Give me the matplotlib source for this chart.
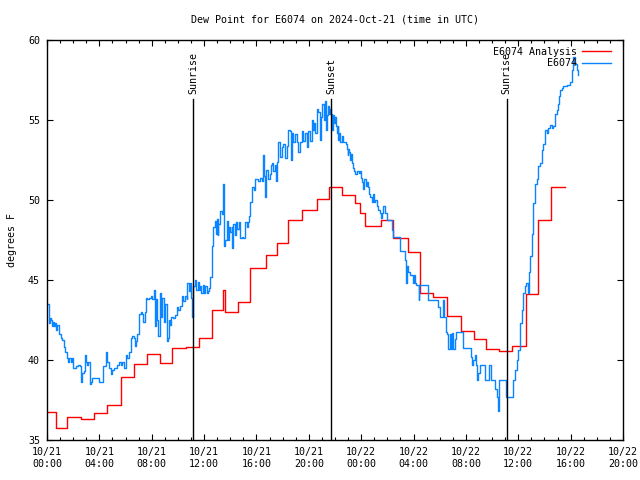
import matplotlib

matplotlib.use("Agg")
import matplotlib.pyplot as plt

# hours since 2024-10-21 00:00 UTC
blue_h = [0.00, 0.13, 0.20, 0.28, 0.36, 0.45, 0.53, 0.62, 0.70, 0.80, 0.92, 1.04, 1.17, 1.27, 1.40,
          1.52, 1.60, 1.70, 1.80, 1.93, 2.00, 2.19, 2.40, 2.52, 2.57, 2.65, 2.80, 2.88, 2.95, 3.05,
          3.15, 3.25, 3.34, 3.46, 3.97, 4.23, 4.30, 4.48, 4.60, 4.70, 4.86, 5.00, 5.12, 5.37, 5.50,
          5.62, 5.76, 5.88, 6.00, 6.14, 6.26, 6.39, 6.50, 6.65, 6.70, 6.80, 6.90, 7.03, 7.15, 7.25,
          7.36, 7.45, 7.54, 7.66, 7.80, 7.92, 8.05, 8.17, 8.22, 8.30, 8.38, 8.50, 8.63, 8.72, 8.82,
          8.90, 9.00, 9.14, 9.22, 9.30, 9.39, 9.50, 9.62, 9.78, 9.90, 10.00, 10.16, 10.29, 10.40, 10.55,
          10.67, 10.72, 10.82, 10.92, 11.00, 11.05, 11.12, 11.18, 11.30, 11.40, 11.50, 11.60, 11.69, 11.80, 11.90,
          12.00, 12.10, 12.20, 12.32, 12.40, 12.45, 12.58, 12.71, 12.84, 12.90, 12.97, 13.03, 13.09, 13.21, 13.34,
          13.47, 13.53, 13.60, 13.72, 13.80, 13.92, 14.00, 14.10, 14.15, 14.23, 14.35, 14.45, 14.55, 14.65, 14.74,
          14.90, 15.00, 15.13, 15.25, 15.38, 15.45, 15.51, 15.64, 15.78, 15.90, 16.10, 16.30, 16.45, 16.53, 16.58,
          16.63, 16.70, 16.76, 16.90, 17.04, 17.09, 17.17, 17.30, 17.42, 17.49, 17.60, 17.67, 17.80, 17.93, 18.06,
          18.18, 18.30, 18.44, 18.56, 18.61, 18.69, 18.80, 18.94, 19.07, 19.20, 19.33, 19.45, 19.58, 19.71, 19.84,
          19.97, 20.10, 20.22, 20.30, 20.40, 20.50, 20.60, 20.73, 20.85, 20.95, 21.03, 21.15, 21.24, 21.31, 21.40,
          21.49, 21.56, 21.62, 21.69, 21.75, 21.82, 21.92, 22.00, 22.08, 22.13, 22.20, 22.26, 22.33, 22.42, 22.51,
          22.60, 22.85, 22.90, 22.96, 23.02, 23.10, 23.15, 23.20, 23.28, 23.40, 23.48, 23.55, 23.66, 23.80, 23.91,
          23.96, 24.08, 24.17, 24.24, 24.33, 24.42, 24.50, 24.62, 24.68, 24.80, 24.88, 24.96, 25.05, 25.18, 25.30,
          25.44, 25.52, 25.60, 25.70, 25.82, 25.95, 26.38, 26.46, 26.97, 27.10, 27.35, 27.45, 27.52, 27.60, 27.73,
          27.86, 27.95, 28.05, 28.12, 28.20, 28.30, 28.38, 28.45, 29.07, 29.90, 30.05, 30.17, 30.25, 30.35, 30.45,
          30.56, 30.66, 30.76, 30.85, 30.95, 31.05, 31.16, 31.24, 31.75, 32.37, 32.47, 32.57, 32.70, 32.77, 32.88,
          32.95, 33.08, 33.46, 33.80, 33.90, 34.23, 34.36, 34.48, 34.55, 35.10, 35.63, 35.76, 35.89, 36.00, 36.13,
          36.26, 36.39, 36.51, 36.59, 36.71, 36.80, 36.90, 37.02, 37.15, 37.28, 37.40, 37.53, 37.66, 37.79, 37.92,
          38.05, 38.17, 38.30, 38.45, 38.55, 38.68, 38.81, 38.93, 39.05, 39.14, 39.19, 39.32, 39.45, 39.70, 39.96,
          40.09, 40.21, 40.34, 40.46, 40.59]
blue_v = [43.5, 42.3, 42.6, 42.5, 42.1, 42.4, 42.1, 42.3, 41.9, 42.2, 41.6, 41.4, 41.25, 40.8, 40.5,
          40.1, 39.9, 40.1, 39.9, 40.1, 39.5, 39.6, 39.7, 39.6, 38.65, 39.2, 39.3, 40.3, 39.9, 39.7,
          39.9, 38.5, 38.65, 38.9, 38.6, 38.6, 39.6, 40.5, 39.9, 39.5, 39.1, 39.4, 39.5, 39.7, 39.9,
          39.7, 39.9, 39.5, 40.3, 40.1, 40.5, 41.4, 41.5, 41.4, 40.9, 41.2, 41.6, 42.9, 43.0, 42.9,
          42.4, 43.0, 43.9, 43.8, 43.9, 44.0, 43.8, 44.4, 42.1, 43.8, 42.5, 41.5, 44.2, 42.7, 43.9,
          42.4, 43.5, 41.2, 41.4, 42.5, 42.2, 42.7, 42.6, 42.8, 43.3, 43.1, 43.4, 44.0, 43.7, 44.0,
          43.8, 44.8, 44.3, 44.8, 43.9, 42.7, 44.3, 44.6, 45.0, 44.4, 44.9, 44.4, 44.6, 44.2, 44.7,
          44.2, 44.6, 44.2, 44.3, 44.5, 45.2, 47.1, 48.3, 48.7, 47.9, 48.8, 47.8, 48.5, 49.3, 49.1,
          51.0, 47.1, 47.5, 48.7, 47.5, 48.3, 48.0, 48.3, 47.0, 48.5, 47.8, 48.6, 48.2, 48.6, 47.6,
          47.7, 47.6, 48.6, 48.3, 48.6, 49.0, 49.9, 50.8, 50.6, 51.3, 51.2, 51.4, 51.2, 52.8, 51.5,
          50.2, 51.5, 51.9, 51.3, 51.6, 52.2, 52.3, 51.8, 52.2, 51.2, 52.4, 53.6, 52.7, 53.3, 53.5,
          52.6, 53.4, 54.4, 54.3, 52.5, 54.2, 53.6, 54.1, 53.6, 53.0, 53.6, 54.3, 53.7, 54.2, 53.3,
          54.3, 53.7, 55.0, 54.4, 54.8, 54.2, 55.7, 55.5, 53.75, 55.2, 56.0, 55.0, 56.2, 54.4, 55.3,
          55.9, 55.4, 55.7, 55.4, 54.4, 55.3, 54.8, 55.2, 54.6, 54.2, 54.6, 53.75, 54.2, 53.6, 54.0,
          53.6, 53.5, 53.2, 52.8, 53.2, 53.0, 52.5, 52.9, 52.3, 52.0, 51.8, 51.6, 51.8, 51.7, 51.8,
          51.4, 51.1, 50.7, 51.3, 50.9, 51.1, 50.8, 50.4, 50.2, 49.9, 50.4, 49.9, 50.0, 49.6, 49.4,
          49.2, 48.85, 49.2, 49.6, 49.2, 48.75, 48.1, 47.7, 46.8, 46.8, 46.25, 44.8, 45.9, 45.5, 45.3,
          45.3, 44.8, 45.3, 44.8, 44.7, 44.7, 43.75, 44.7, 43.75, 43.3, 42.7, 42.7, 43.75, 42.7, 41.77,
          41.6, 40.7, 41.6, 40.7, 41.7, 40.7, 41.3, 41.77, 40.73, 40.2, 39.7, 40.0, 40.3, 39.7, 38.75,
          39.2, 39.7, 38.75, 39.7, 38.75, 38.2, 37.7, 36.8, 38.75, 37.7, 38.75, 39.4, 40.0, 40.6, 42.3,
          43.1, 44.2, 44.6, 44.8, 44.2, 45.5, 46.5, 47.9, 49.8, 51.0, 51.3, 52.1, 52.3, 53.1, 53.5,
          54.4, 54.2, 54.5, 54.7, 54.5, 54.6, 55.4, 55.6, 56.0, 56.5, 56.9, 57.0, 57.1, 57.2, 57.4,
          58.1, 58.96, 58.5, 58.1, 57.8]

red_h = [0.0, 0.66, 1.55, 2.6, 3.59, 4.58, 5.65, 6.65, 7.64, 8.63, 9.53, 10.62, 11.58, 12.58, 13.47,
         13.6, 14.6, 15.53, 16.7, 17.6, 18.43, 19.5, 20.6, 21.54, 22.56, 23.53, 23.9, 24.3, 25.5, 26.45,
         27.55, 28.5, 29.5, 30.53, 31.6, 32.62, 33.54, 34.55, 35.5, 36.57, 37.49, 38.48, 39.57]
red_v = [36.73, 35.75, 36.44, 36.31, 36.67, 37.17, 38.92, 39.75, 40.36, 39.79, 40.73, 40.79, 41.35, 43.1, 44.4,
         43.0, 43.6, 45.75, 46.56, 47.29, 48.75, 49.35, 50.06, 50.83, 50.3, 49.8, 49.2, 48.4, 48.75, 47.65,
         46.73, 44.2, 43.95, 42.75, 41.79, 41.29, 40.67, 40.56, 40.9, 44.1, 48.75, 50.83, 50.83]

sun_h = [11.15, 21.7, 35.12]
sun_names = ["Sunrise", "Sunset", "Sunrise"]

tick_h = list(range(0, 45, 4))
tick_labels = ["10/21\n00:00", "10/21\n04:00", "10/21\n08:00", "10/21\n12:00", "10/21\n16:00",
               "10/21\n20:00", "10/22\n00:00", "10/22\n04:00", "10/22\n08:00", "10/22\n12:00",
               "10/22\n16:00", "10/22\n20:00"]

plt.rcParams["font.family"] = "DejaVu Sans Mono"
fs = 7.2

fig = plt.figure(figsize=(6.4, 4.8), dpi=100)
ax = fig.add_axes([47 / 640, 40 / 480, 576 / 640, 400 / 480])

ax.plot(red_h, red_v, color="#ff0000", lw=1.0, drawstyle="steps-post", label="E6074 Analysis")
ax.plot(blue_h, blue_v, color="#0a84ff", lw=1.0, drawstyle="steps-post", label="E6074")

for h, name in zip(sun_h, sun_names):
    ax.plot([h, h], [35, 56.31], color="black", lw=1.0)
    ax.text(h, 56.6, name, rotation=90, ha="center", va="bottom", fontsize=fs)

ax.set_xlim(0, 44)
ax.set_ylim(35, 60)
ax.set_xticks(tick_h)
ax.set_xticklabels(tick_labels, fontsize=fs, linespacing=1.3)
ax.set_xticks(range(0, 45), minor=True)
ax.set_yticks(range(35, 61, 5))
ax.tick_params(axis="y", labelsize=fs)
ax.tick_params(which="major", direction="in", length=4, width=0.8, top=True, right=True, pad=5)
ax.tick_params(which="minor", direction="in", length=2, width=0.8, top=True, right=True)
for s in ax.spines.values():
    s.set_linewidth(1.0)

leg = ax.legend(loc="upper right", frameon=False, markerfirst=False, fontsize=fs,
                handlelength=2.9, handletextpad=0.55, labelspacing=0.15,
                borderaxespad=0.3, bbox_to_anchor=(0.992, 1.0))

fig.text(335 / 640, 1 - 20 / 480, "Dew Point for E6074 on 2024-Oct-21 (time in UTC)",
         ha="center", va="center", fontsize=fs)
fig.text(12 / 640, 0.5, "degrees F", rotation=90, ha="center", va="center", fontsize=fs)

fig.savefig("out.png", dpi=100)
